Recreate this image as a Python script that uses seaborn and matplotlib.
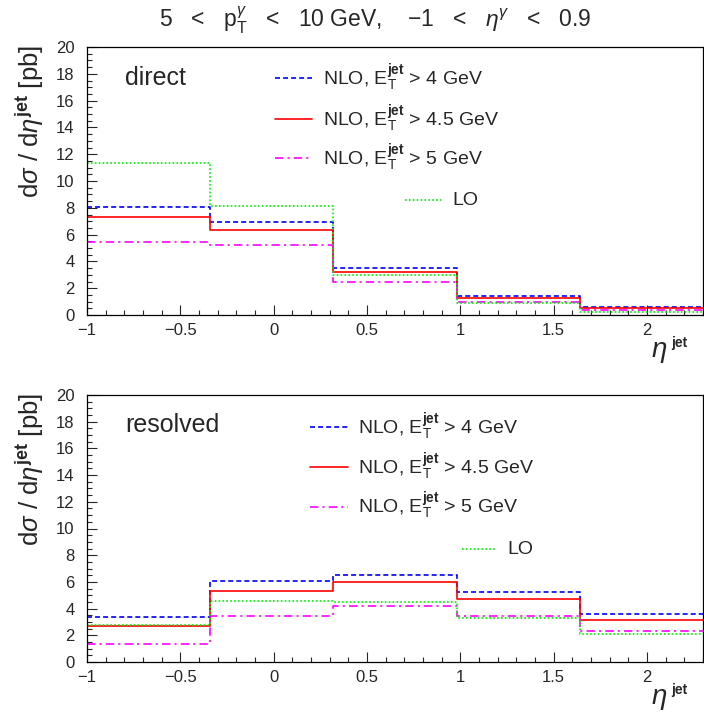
import numpy as np
import pandas as pd
import matplotlib
matplotlib.use("Agg")
import matplotlib.pyplot as plt
from matplotlib.ticker import MultipleLocator, FuncFormatter
import seaborn as sns

# ---------------- data ----------------
eta_edges = [-1.0, -0.34, 0.32, 0.98, 1.64, 2.3]

direct_nlo4 = [8.05, 6.95, 3.5, 1.45, 0.6]
direct_nlo45 = [7.35, 6.35, 3.2, 1.25, 0.5]
direct_nlo5 = [5.45, 5.25, 2.45, 1.0, 0.37]
direct_lo = [11.35, 8.15, 2.95, 0.88, 0.25]

resolved_nlo4 = [3.4, 6.07, 6.5, 5.27, 3.6]
resolved_nlo45 = [2.7, 5.3, 6.0, 4.72, 3.15]
resolved_nlo5 = [1.35, 3.45, 4.2, 3.47, 2.32]
resolved_lo = [2.8, 4.55, 4.52, 3.27, 2.07]

series_labels = [r"NLO, E$_{\mathrm{T}}^{\mathbf{jet}}$ > 4 GeV",
                 r"NLO, E$_{\mathrm{T}}^{\mathbf{jet}}$ > 4.5 GeV",
                 r"NLO, E$_{\mathrm{T}}^{\mathbf{jet}}$ > 5 GeV",
                 "LO"]
x_ticks = [-1, -0.5, 0, 0.5, 1, 1.5, 2]
y_ticks = [0, 2, 4, 6, 8, 10, 12, 14, 16, 18, 20]

# ---------------- style ----------------
sns.set_style("ticks")
plt.rcParams["font.family"] = ["Liberation Sans", "DejaVu Sans"]
plt.rcParams["mathtext.fontset"] = "custom"
plt.rcParams["mathtext.rm"] = "Liberation Sans"
plt.rcParams["mathtext.it"] = "Liberation Sans:italic"
plt.rcParams["mathtext.bf"] = "Liberation Sans:bold"
plt.rcParams["lines.scale_dashes"] = False

colors = ["#0000ff", "#ff0000", "#ff00ff", "#00ee00"]
styles = [(0, (3.6, 2.2)), "-", (0, (6, 3, 1.5, 3)), (0, (1.2, 1.6))]
lw = 1.2

fig = plt.figure(figsize=(7.04, 7.17), dpi=100)
ax_top = fig.add_axes([87 / 704, 1 - 315 / 717, 616 / 704, 268 / 717])
ax_bot = fig.add_axes([87 / 704, 1 - 662 / 717, 616 / 704, 267 / 717])

centers = [0.5 * (a + b) for a, b in zip(eta_edges[:-1], eta_edges[1:])]

panels = [
    (ax_top, [direct_nlo4, direct_nlo45, direct_nlo5, direct_lo], "direct",
     dict(line_x=(0.305, 0.365), text_x=0.383, ys=[0.884, 0.731, 0.586],
          lo_line=(0.516, 0.574), lo_text=0.593, lo_y=0.429, lab_y=0.884)),
    (ax_bot, [resolved_nlo4, resolved_nlo45, resolved_nlo5, resolved_lo], "resolved",
     dict(line_x=(0.362, 0.424), text_x=0.440, ys=[0.880, 0.730, 0.581],
          lo_line=(0.609, 0.666), lo_text=0.683, lo_y=0.423, lab_y=0.888)),
]

for ax, vals_list, name, leg in panels:
    for vals, c, ls in zip(vals_list, colors, styles):
        df = pd.DataFrame({"eta": centers, "w": vals})
        sns.histplot(data=df, x="eta", weights="w", bins=list(eta_edges), element="step",
                     fill=False, color=c, linestyle=ls, linewidth=lw, ax=ax)
    ax.set_xlim(-1, 2.3)
    ax.set_ylim(0, 20)
    ax.set_xticks(x_ticks)
    ax.set_yticks(y_ticks)
    ax.xaxis.set_minor_locator(MultipleLocator(0.1))
    ax.yaxis.set_minor_locator(MultipleLocator(0.5))
    ax.xaxis.set_major_formatter(FuncFormatter(lambda v, p: f"{v:g}".replace("-", "\u2212")))
    ax.tick_params(which="major", direction="in", length=7.5, width=0.8,
                   labelsize=12, top=False, right=False, pad=6)
    ax.tick_params(axis="y", which="major", pad=9)
    ax.tick_params(which="minor", direction="in", length=3.8, width=0.8,
                   top=False, right=False)
    for s in ax.spines.values():
        s.set_linewidth(0.9)
        s.set_color("black")
    ax.set_xlabel("")
    ax.set_ylabel("")
    # y title, aligned to the top of the axis (ROOT style)
    ax.text(-0.093, 1.007, r"d$\sigma$ / d$\eta^{\mathbf{jet}}$ [pb]", rotation=90,
            transform=ax.transAxes, ha="center", va="top", fontsize=18.5)
    # x title at the bottom right
    ax.text(0.942, -0.157, r"$\eta$", transform=ax.transAxes,
            ha="right", va="baseline", fontsize=20)
    ax.text(0.948, -0.12, "jet", transform=ax.transAxes,
            ha="left", va="baseline", fontsize=10, fontweight="bold")
    ax.text(0.062, leg["lab_y"], name, transform=ax.transAxes,
            ha="left", va="center", fontsize=18)
    # legend entries
    for i in range(3):
        ax.plot(leg["line_x"], [leg["ys"][i]] * 2, transform=ax.transAxes,
                color=colors[i], linestyle=styles[i], linewidth=lw)
        ax.text(leg["text_x"], leg["ys"][i], series_labels[i], transform=ax.transAxes,
                ha="left", va="center", fontsize=14)
    ax.plot(leg["lo_line"], [leg["lo_y"]] * 2, transform=ax.transAxes,
            color=colors[3], linestyle=styles[3], linewidth=lw)
    ax.text(leg["lo_text"], leg["lo_y"], series_labels[3], transform=ax.transAxes,
            ha="left", va="center", fontsize=14)

fig.text(375 / 704, 1 - 20 / 717,
         r"5   <   p$_{\mathrm{T}}^{\gamma}$   <   10 GeV,    $-$1   <   $\eta^{\gamma}$   <   0.9",
         ha="center", va="center", fontsize=16.5)

fig.savefig("out.png", dpi=100)
